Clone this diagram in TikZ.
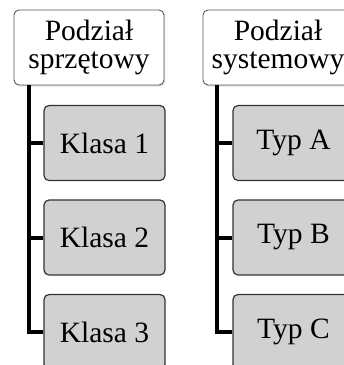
\documentclass[tikz,border=0pt]{standalone}
\usepackage{fontspec}
\setmainfont{Liberation Serif}
\usepackage{tikz}
\usetikzlibrary{shadows}
\tikzset{head/.style = {shape = rectangle, draw = black!65, line width = 0.9pt, rounded corners = 5pt, fill = white, minimum width = 150pt, minimum height = 75pt, inner sep = 0pt, align = center, font = \fontsize{29.5}{28}\selectfont, drop shadow = {opacity = 0.25, shadow xshift = 1pt, shadow yshift = -1.5pt}}}
\tikzset{item/.style = {shape = rectangle, draw = black!80, line width = 1.2pt, rounded corners = 5pt, fill = black!18, minimum width = 121pt, minimum height = 75pt, inner sep = 0pt, font = \fontsize{29.5}{28}\selectfont}}
\tikzset{edge/.style = {-, line width = 4pt, line join = miter}}

\begin{document}
\begin{tikzpicture}[x = 1pt, y = -1pt]
	\useasboundingbox (0, 0) rectangle (344, 365);
	\clip (0, 0) rectangle (344, 365);

	\node[head] (h1) at (89, 47.5) {Podział\\sprzętowy};
	\node[head] (h2) at (278, 47.5) {Podział\\systemowy};

	\node[item] (k1) at (104.5, 143) {Klasa 1};
	\node[item] (k2) at (104.5, 237.5) {Klasa 2};
	\node[item] (k3) at (104.5, 332) {Klasa 3};

	\node[item] (t1) at (293.5, 143) {Typ A};
	\node[item] (t2) at (293.5, 237.5) {Typ B};
	\node[item] (t3) at (293.5, 332) {Typ C};

	\draw[edge] ([xshift = 15.5pt]h1.south west) |- (k1.west);
	\draw[edge] ([xshift = 15.5pt]h1.south west) |- (k2.west);
	\draw[edge] ([xshift = 15.5pt]h1.south west) |- (k3.west);

	\draw[edge] ([xshift = 14.5pt]h2.south west) |- (t1.west);
	\draw[edge] ([xshift = 14.5pt]h2.south west) |- (t2.west);
	\draw[edge] ([xshift = 14.5pt]h2.south west) |- (t3.west);
\end{tikzpicture}
\end{document}
